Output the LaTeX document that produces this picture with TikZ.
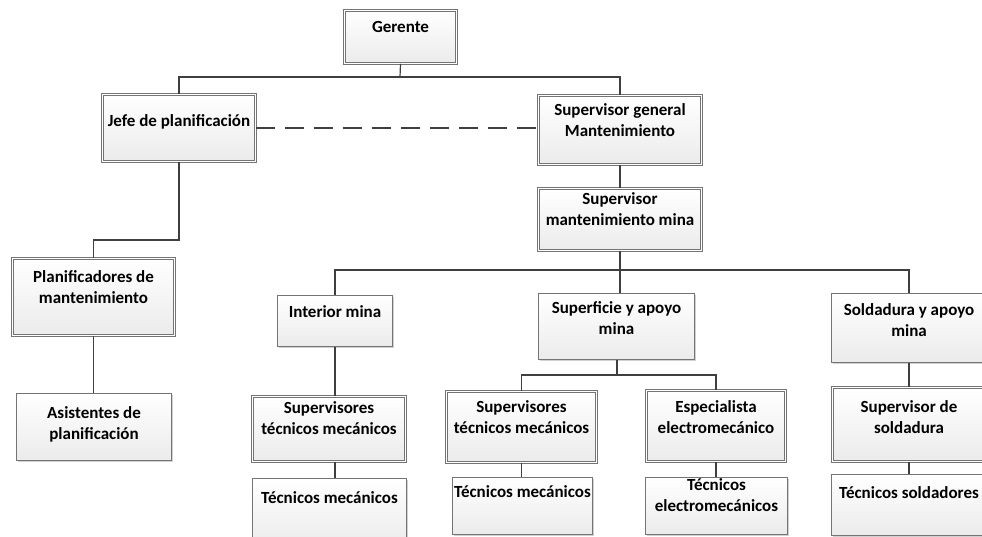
\documentclass[tikz,border=0pt]{standalone}
\usepackage{fontspec}
\setmainfont{Carlito}
\usepackage{tikz}
\usetikzlibrary{shadows}
\definecolor{edgegray}{HTML}{747474}
\definecolor{wiregray}{HTML}{3F3F3F}
\definecolor{paper}{HTML}{EBEBEB}
\tikzset{
  box/.style={rectangle, draw=edgegray, line width=0.9pt, top color=white, bottom color=paper,
              inner sep=0pt, drop shadow={shadow xshift=1.6pt, shadow yshift=-1.6pt, fill=black!18, opacity=1}},
  dbox/.style={box, double=white, double distance=1.6pt},
  lbl/.style={font=\bfseries\fontsize{17}{21}\selectfont, align=center, inner sep=0pt, anchor=north},
  wire/.style={draw=wiregray, line width=1.2pt},
  link/.style={wire, dash pattern=on 19pt off 10pt}
}
\begin{document}
\begin{tikzpicture}[x=1pt, y=-1pt]
  \useasboundingbox (0,0) rectangle (982,537);
  \clip (0,0) rectangle (982,537);
  % top levels
  \node[dbox, minimum width=112pt, minimum height=53pt, label={[lbl, yshift=-11.5pt]north:Gerente}] (gerente) at (400.5,37) {};
  \node[dbox, minimum width=153pt, minimum height=67pt, label={[lbl, yshift=-20pt]north:Jefe de planificación}] (jefe) at (179,128) {};
  \node[dbox, minimum width=163pt, minimum height=69pt, label={[lbl, yshift=-8pt]north:Supervisor general\\Mantenimiento}] (supgen) at (620,130) {};
  \node[dbox, minimum width=163pt, minimum height=62pt, label={[lbl, yshift=-4pt]north:Supervisor\\mantenimiento mina}] (supmina) at (620,219.5) {};
  % planning branch
  \node[dbox, minimum width=162pt, minimum height=77pt, label={[lbl, yshift=-12pt]north:Planificadores de\\mantenimiento}] (planif) at (93.5,297) {};
  \node[box, minimum width=155pt, minimum height=67pt, label={[lbl, yshift=-13pt]north:Asistentes de\\planificación}] (asist) at (94,427) {};
  % maintenance areas
  \node[box, minimum width=115pt, minimum height=51pt, label={[lbl, yshift=-10pt]north:Interior mina}] (interior) at (335,321) {};
  \node[box, minimum width=156pt, minimum height=66pt, label={[lbl, yshift=-8pt]north:Superficie y apoyo\\mina}] (superf) at (616.5,326.5) {};
  \node[box, minimum width=155pt, minimum height=69pt, label={[lbl, yshift=-10pt]north:Soldadura y apoyo\\mina}] (soldad) at (909,328) {};
  % supervisors
  \node[dbox, minimum width=153pt, minimum height=65pt, label={[lbl, yshift=-5pt]north:Supervisores\\técnicos mecánicos}] (suptecA) at (329,429) {};
  \node[dbox, minimum width=150pt, minimum height=71pt, label={[lbl, yshift=-9pt]north:Supervisores\\técnicos mecánicos}] (suptecB) at (521.5,427) {};
  \node[dbox, minimum width=139pt, minimum height=71pt, label={[lbl, yshift=-10pt]north:Especialista\\electromecánico}] (espec) at (716,426) {};
  \node[dbox, minimum width=153pt, minimum height=74pt, label={[lbl, yshift=-13pt]north:Supervisor de\\soldadura}] (supsold) at (909,424.5) {};
  % technicians
  \node[box, minimum width=154pt, minimum height=69pt, label={[lbl, yshift=-13pt]north:Técnicos mecánicos}] (tecA) at (329.5,513) {};
  \node[box, minimum width=140pt, minimum height=57pt, label={[lbl, yshift=-8pt]north:Técnicos mecánicos}] (tecB) at (522.5,506) {};
  \node[box, minimum width=142pt, minimum height=57pt, label={[lbl, yshift=-1pt]north:Técnicos\\electromecánicos}] (tecelec) at (716.5,506) {};
  \node[box, minimum width=155pt, minimum height=61pt, label={[lbl, yshift=-12pt]north:Técnicos soldadores}] (tecsold) at (909,505) {};
  % bus points
  \coordinate (bus0) at (400,77);
  \coordinate (bus1) at (179,240);
  \coordinate (bus2) at (620,270);
  \coordinate (bus3) at (617,375);
  % connectors
  \draw[wire] (gerente.south) -- (bus0);
  \draw[wire] (jefe.north) |- (bus0) -| (supgen.north);
  \draw[link] (jefe.east) -- (jefe.east -| supgen.west);
  \draw[wire] (jefe.south) -- (bus1) -| (planif.north);
  \draw[wire] (planif.south) -- (planif.south |- asist.north);
  \draw[wire] (supgen.south) -- (supmina.north);
  \draw[wire] (supmina.south) -- (bus2);
  \draw[wire] (interior.north) |- (bus2) -| (soldad.north);
  \draw[wire] (bus2) -- (bus2 |- superf.north);
  \draw[wire] (interior.south) -- (interior.south |- suptecA.north);
  \draw[wire] (suptecA.south -| interior.south) -- (tecA.north -| interior.south);
  \draw[wire] (superf.south -| bus3) -- (bus3);
  \draw[wire] (suptecB.north) |- (bus3) -| (espec.north);
  \draw[wire] (suptecB.south) -- (suptecB.south |- tecB.north);
  \draw[wire] (espec.south) -- (espec.south |- tecelec.north);
  \draw[wire] (soldad.south) -- (supsold.north);
  \draw[wire] (supsold.south) -- (tecsold.north);
\end{tikzpicture}
\end{document}
